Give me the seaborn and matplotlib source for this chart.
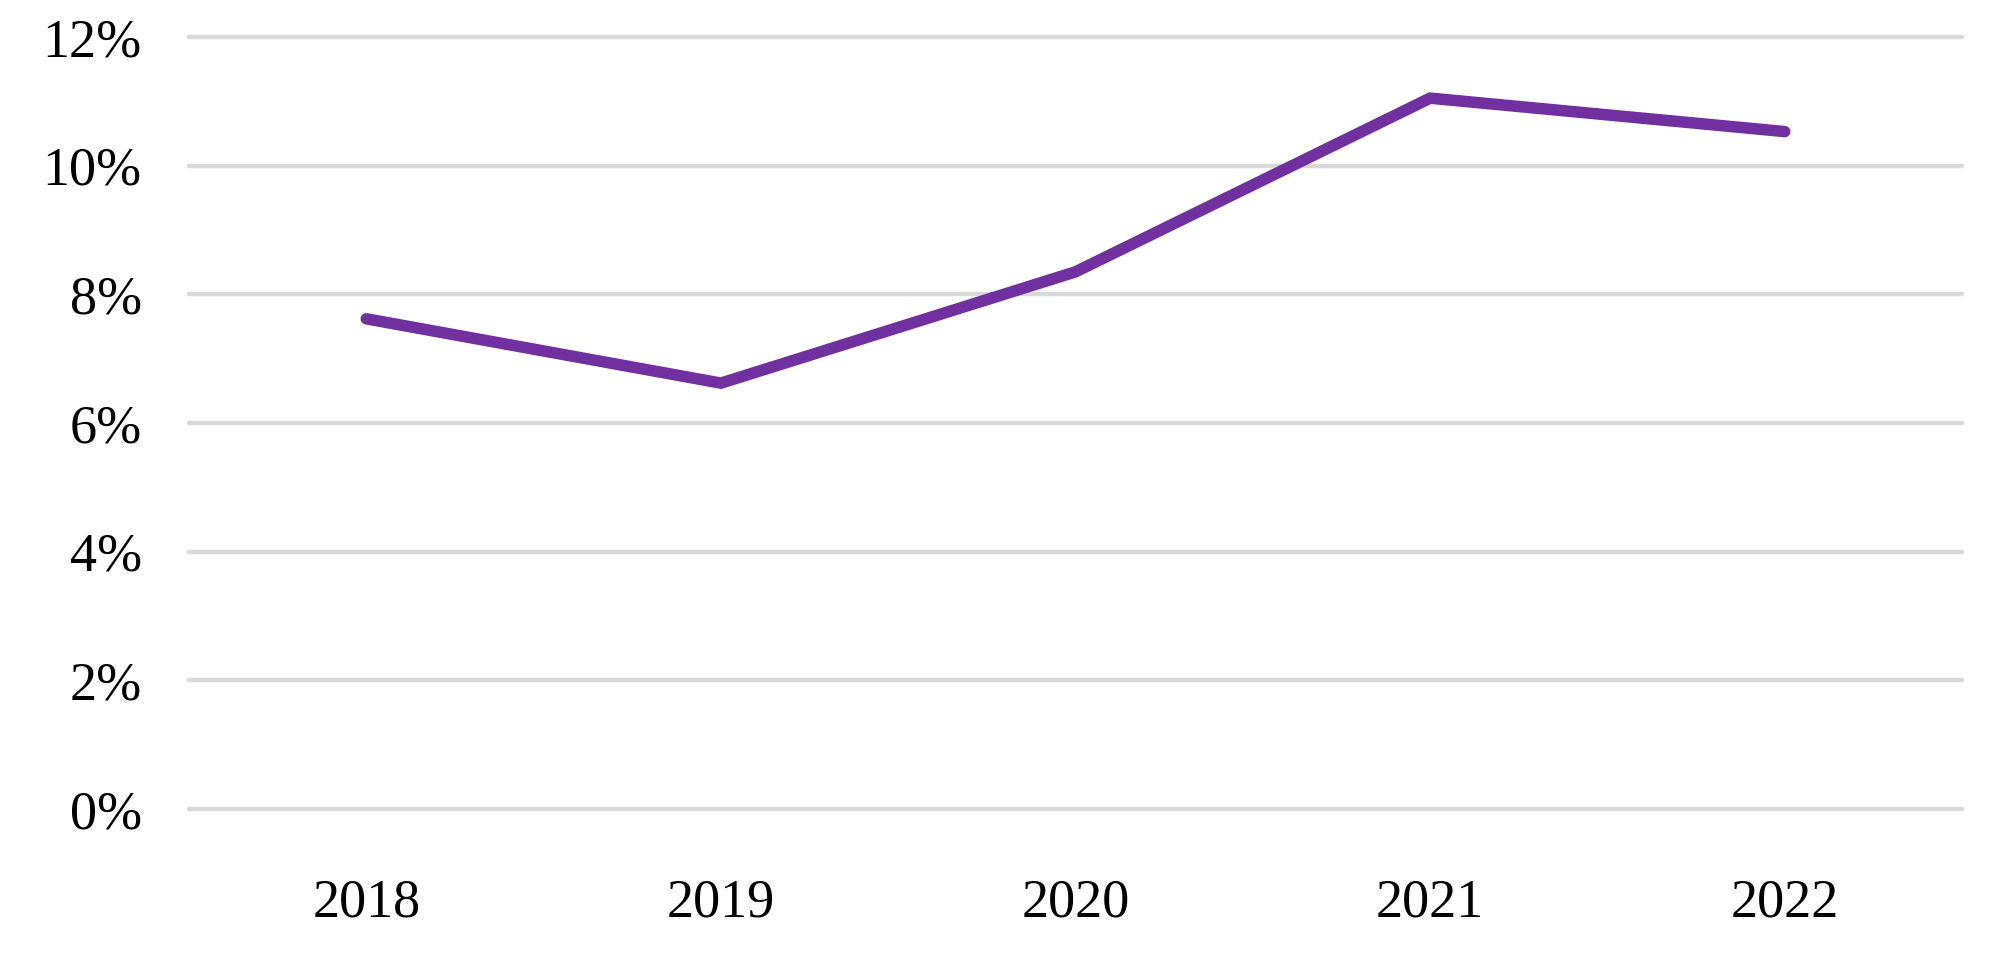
import matplotlib.pyplot as plt
import seaborn as sns
import numpy as np
import pandas as pd

years = ['2018', '2019', '2020', '2021', '2022']
values = [7.62, 6.62, 8.35, 11.05, 10.53]

df = pd.DataFrame({'pos': np.arange(len(years)), 'year': years, 'value': values})

sns.set_style('white')
plt.rcParams['font.family'] = ['Liberation Serif', 'DejaVu Serif']

fig = plt.figure(figsize=(20, 9.67), dpi=100)
ax = fig.add_axes([0.0945, 0.1634, 0.981 - 0.0945, 0.9617 - 0.1634])

sns.lineplot(data=df, x='pos', y='value', color='#7030A0', linewidth=8.3,
             solid_capstyle='round', solid_joinstyle='miter', ax=ax, clip_on=False, zorder=3)

ax.set_xlim(-0.5, len(years) - 0.5)
ax.set_ylim(0, 12)
ax.set_yticks(np.arange(0, 13, 2))
ax.set_yticklabels([f'{v}%' for v in range(0, 13, 2)])
ax.set_xticks(df['pos'])
ax.set_xticklabels(years)
ax.yaxis.grid(True, color='#D9D9D9', linewidth=3.2)
for gl in ax.get_ygridlines():
    gl.set_clip_on(False)
ax.set_axisbelow(True)
for s in ax.spines.values():
    s.set_visible(False)
ax.tick_params(axis='y', length=0, pad=34, labelsize=39, labelcolor='black')
ax.tick_params(axis='x', length=0, pad=50, labelsize=39, labelcolor='black')
ax.set_xlabel('')
ax.set_ylabel('')

fig.savefig('out.png', dpi=100, facecolor='white')
